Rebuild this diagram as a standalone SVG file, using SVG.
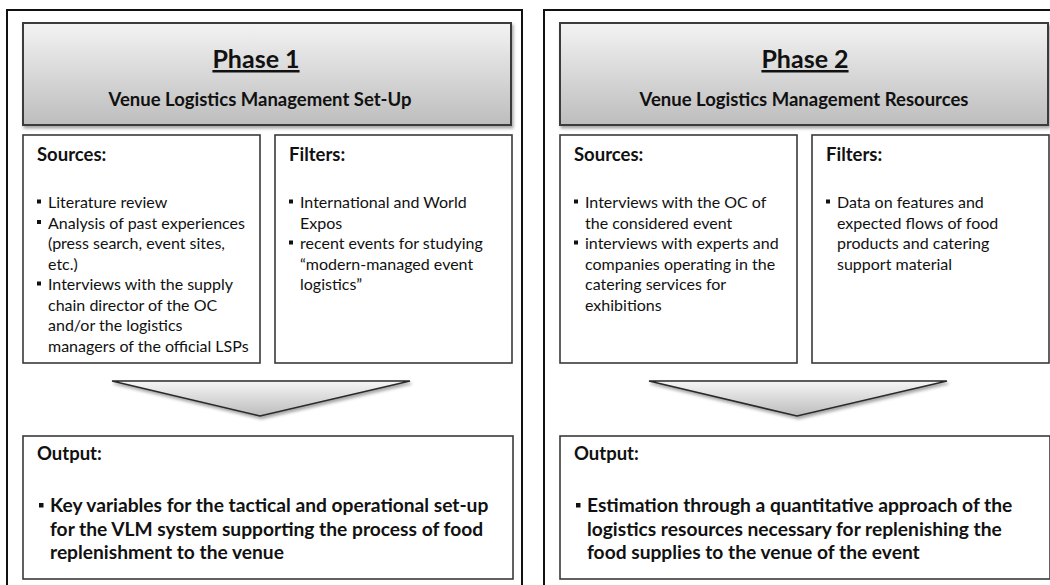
<svg xmlns="http://www.w3.org/2000/svg" width="1050" height="585" viewBox="0 0 1050 585">
<style>
text{font-family:Lato,"Liberation Sans",sans-serif;fill:#111}
.frame{fill:#fff;stroke:#111;stroke-width:2}
.hdr{fill:url(#hg);stroke:#3a3a3a;stroke-width:2;filter:url(#sh)}
.box{fill:#fff;stroke:#3a3a3a;stroke-width:1.6}
.arrow{fill:url(#ag);stroke:#2a2a2a;stroke-width:1.6;filter:url(#sh)}
.phase{font-size:25px;font-weight:bold;text-decoration:underline}
.title{font-size:18.5px;font-weight:bold}
.lbl{font-size:18.5px;font-weight:bold}
.body{font-size:16px}
.out{font-size:19.2px;font-weight:bold}
.bul{fill:#111}
</style>
<defs>
<linearGradient id="hg" x1="0" y1="0" x2="0" y2="1">
<stop offset="0" stop-color="#f3f3f3"/>
<stop offset="1" stop-color="#bdbdbd"/>
</linearGradient>
<linearGradient id="ag" x1="0" y1="0" x2="0" y2="1">
<stop offset="0" stop-color="#f6f6f6"/>
<stop offset="1" stop-color="#bcbcbc"/>
</linearGradient>
<filter id="sh" x="-5%" y="-20%" width="110%" height="140%">
<feDropShadow dx="1.5" dy="2.5" stdDeviation="1.5" flood-color="#000" flood-opacity="0.35"/>
</filter>
</defs>

<g id="panel1">
<rect class="frame" x="7" y="10" width="515" height="600"/>
<g id="p1-header">
<rect class="hdr" x="23" y="23" width="488" height="102"/>
<text class="phase" x="256" y="68" text-anchor="middle">Phase 1</text>
<text class="title" x="260" y="106" text-anchor="middle">Venue Logistics Management Set-Up</text>
</g>
<g id="p1-sources">
<rect class="box" x="23" y="135" width="237" height="228"/>
<text class="lbl" x="37" y="161">Sources:</text>
<rect class="bul" x="37" y="199.5" width="4" height="4"/>
<rect class="bul" x="37" y="220" width="4" height="4"/>
<rect class="bul" x="37" y="281.5" width="4" height="4"/>
<text class="body" x="48" y="208">Literature review</text>
<text class="body" x="48" y="228.5">Analysis of past experiences</text>
<text class="body" x="48" y="249">(press search, event sites,</text>
<text class="body" x="48" y="269.5">etc.)</text>
<text class="body" x="48" y="290">Interviews with the supply</text>
<text class="body" x="48" y="310.5">chain director of the OC</text>
<text class="body" x="48" y="331">and/or the logistics</text>
<text class="body" x="48" y="351.5">managers of the official LSPs</text>
</g>
<g id="p1-filters">
<rect class="box" x="275" y="135" width="237" height="228"/>
<text class="lbl" x="289" y="161">Filters:</text>
<rect class="bul" x="289" y="199.5" width="4" height="4"/>
<rect class="bul" x="289" y="240.5" width="4" height="4"/>
<text class="body" x="300" y="208">International and World</text>
<text class="body" x="300" y="228.5">Expos</text>
<text class="body" x="300" y="249">recent events for studying</text>
<text class="body" x="300" y="269.5">“modern-managed event</text>
<text class="body" x="300" y="290">logistics”</text>
</g>
<g id="p1-output">
<rect class="box" x="23" y="436" width="490" height="143"/>
<text class="lbl" x="37" y="460">Output:</text>
<rect class="bul" x="39" y="503" width="4.5" height="4.5"/>
<text class="out" x="50" y="512">Key variables for the tactical and operational set-up</text>
<text class="out" x="50" y="535.5">for the VLM system supporting the process of food</text>
<text class="out" x="50" y="559">replenishment to the venue</text>
</g>
</g>

<g id="panel2">
<rect class="frame" x="544" y="10" width="515" height="600"/>
<g id="p2-header">
<rect class="hdr" x="560" y="23" width="488" height="102"/>
<text class="phase" x="805" y="68" text-anchor="middle">Phase 2</text>
<text class="title" x="804" y="106" text-anchor="middle">Venue Logistics Management Resources</text>
</g>
<g id="p2-sources">
<rect class="box" x="560" y="135" width="237" height="228"/>
<text class="lbl" x="574" y="161">Sources:</text>
<rect class="bul" x="574" y="199.5" width="4" height="4"/>
<rect class="bul" x="574" y="240.5" width="4" height="4"/>
<text class="body" x="585" y="208">Interviews with the OC of</text>
<text class="body" x="585" y="228.5">the considered event</text>
<text class="body" x="585" y="249">interviews with experts and</text>
<text class="body" x="585" y="269.5">companies operating in the</text>
<text class="body" x="585" y="290">catering services for</text>
<text class="body" x="585" y="310.5">exhibitions</text>
</g>
<g id="p2-filters">
<rect class="box" x="812" y="135" width="237" height="228"/>
<text class="lbl" x="826" y="161">Filters:</text>
<rect class="bul" x="826" y="199.5" width="4" height="4"/>
<text class="body" x="837" y="208">Data on features and</text>
<text class="body" x="837" y="228.5">expected flows of food</text>
<text class="body" x="837" y="249">products and catering</text>
<text class="body" x="837" y="269.5">support material</text>
</g>
<g id="p2-output">
<rect class="box" x="560" y="436" width="490" height="143"/>
<text class="lbl" x="574" y="460">Output:</text>
<rect class="bul" x="576" y="503" width="4.5" height="4.5"/>
<text class="out" x="587" y="512">Estimation through a quantitative approach of the</text>
<text class="out" x="587" y="535.5">logistics resources necessary for replenishing the</text>
<text class="out" x="587" y="559">food supplies to the venue of the event</text>
</g>
</g>

<g id="connectors">
<polygon class="arrow" points="112,381 410,381 260,416"/>
<polygon class="arrow" points="649,381 947,381 797,416"/>
</g>
</svg>
